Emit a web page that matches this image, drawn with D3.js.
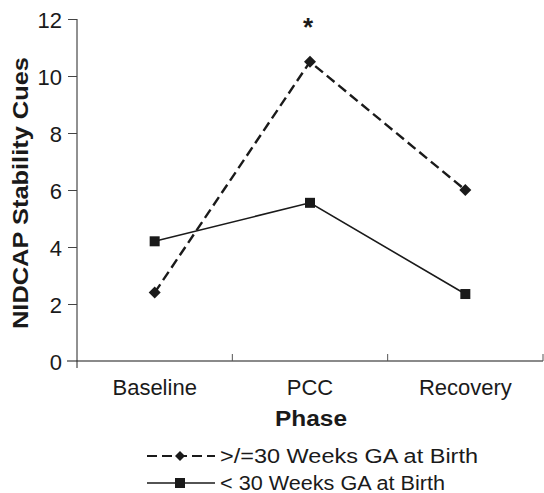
<!DOCTYPE html>
<html lang="en">
<head>
<meta charset="UTF-8">
<title>NIDCAP Stability Cues by Phase</title>
<script src="https://d3js.org/d3.v7.min.js"></script>
<style>
  body { margin: 0; background: #fff; }
  text { font-family: "Liberation Sans", Arial, sans-serif; fill: #1a1a1a; }
</style>
</head>
<body>
<div id="chart"></div>
<script>
// chart data
const phases = ["Baseline", "PCC", "Recovery"];
const ge30 = [2.4, 10.5, 6.0];   // >/=30 weeks GA
const lt30 = [4.2, 5.55, 2.35];  // < 30 weeks GA
const yTicks = [0, 2, 4, 6, 8, 10, 12];
const seriesNames = [">/=30 Weeks GA at Birth", "< 30 Weeks GA at Birth"];

const W = 544, H = 493;
const margin = {top: 19, right: 1, bottom: 132, left: 77};
const width = W - margin.left - margin.right,
      height = H - margin.top - margin.bottom;

const svg = d3.select("#chart").append("svg")
    .attr("width", W).attr("height", H);
const g = svg.append("g").attr("transform", `translate(${margin.left},${margin.top})`);

const x = d3.scaleBand().domain(phases).range([0, width]);
const y = d3.scaleLinear().domain([0, 12]).range([height, 0]);

// x axis (gray)
const xAxis = g.append("g").attr("transform", `translate(0,${height})`)
    .call(d3.axisBottom(x).tickSize(0).tickPadding(18));
xAxis.select(".domain").remove();
xAxis.append("line").attr("x1", -10).attr("x2", width).attr("stroke", "#8a8a8a").attr("stroke-width", 2);
xAxis.selectAll(".cat-tick").data(phases.slice(1).concat(["end"]))
  .join("line")
    .attr("x1", (d, i) => x.step() * (i + 1)).attr("x2", (d, i) => x.step() * (i + 1))
    .attr("y1", 0).attr("y2", -7).attr("stroke", "#555").attr("stroke-width", 1);
xAxis.selectAll("text").attr("font-size", 22).style("fill", "#1a1a1a");

// y axis
const yAxis = g.append("g")
    .call(d3.axisLeft(y).tickValues(yTicks).tickSize(9).tickPadding(6).tickSizeOuter(0));
yAxis.select(".domain").attr("stroke", "#222").attr("d", `M0,0V${height + 7}`);
yAxis.selectAll(".tick line").attr("stroke", "#444");
yAxis.selectAll(".tick").filter(d => d === 0).select("line").attr("stroke", "none");
yAxis.selectAll("text").attr("font-size", 22).attr("dy", "0.4em").style("fill", "#1a1a1a");

const cx = d => x(d) + x.bandwidth() / 2;
const line = d3.line().x(d => cx(d[0])).y(d => y(d[1]));

// < 30 weeks: solid line, squares
const lt = phases.map((p, i) => [p, lt30[i]]);
g.append("path").datum(lt).attr("d", line)
  .attr("fill", "none").attr("stroke", "#1a1a1a").attr("stroke-width", 1.6);
g.selectAll(".sq").data(lt).join("rect")
  .attr("x", d => cx(d[0]) - 5).attr("y", d => y(d[1]) - 5)
  .attr("width", 10).attr("height", 10).attr("fill", "#1a1a1a");

// >= 30 weeks: dashed line, diamonds
const ge = phases.map((p, i) => [p, ge30[i]]);
g.append("path").datum(ge).attr("d", line)
  .attr("fill", "none").attr("stroke", "#1a1a1a").attr("stroke-width", 2.4)
  .attr("stroke-dasharray", "10,5");
const diamond = "M0,-6L6,0L0,6L-6,0Z";
g.selectAll(".dm").data(ge).join("path")
  .attr("d", diamond)
  .attr("transform", d => `translate(${cx(d[0])},${y(d[1])})`)
  .attr("fill", "#1a1a1a");

// significance marker
g.append("text").attr("x", cx("PCC") - 2).attr("y", y(10.5) - 26)
  .attr("text-anchor", "middle").attr("font-size", 26).attr("font-weight", "bold").text("*");

// axis titles
svg.append("text").attr("transform", "translate(28,193) rotate(-90)")
  .attr("text-anchor", "middle").attr("font-size", 22).attr("font-weight", "bold")
  .attr("textLength", 272).attr("lengthAdjust", "spacingAndGlyphs")
  .text("NIDCAP Stability Cues");
svg.append("text").attr("x", 311).attr("y", 426)
  .attr("text-anchor", "middle").attr("font-size", 22).attr("font-weight", "bold")
  .attr("textLength", 72).attr("lengthAdjust", "spacingAndGlyphs").text("Phase");

// legend
const legLen = [258, 225];
const leg = svg.append("g").attr("transform", "translate(147,456)");
seriesNames.forEach((name, i) => {
  const row = leg.append("g").attr("transform", `translate(0,${i * 27})`);
  row.append("line").attr("x1", 0).attr("x2", 68).attr("y1", 0).attr("y2", 0)
    .attr("stroke", "#1a1a1a").attr("stroke-width", i === 0 ? 2 : 1.6)
    .attr("stroke-dasharray", i === 0 ? "10,5" : null);
  if (i === 0) {
    row.append("path").attr("d", "M0,-5L5,0L0,5L-5,0Z").attr("transform", "translate(33,0)").attr("fill", "#1a1a1a");
  } else {
    row.append("rect").attr("x", 28).attr("y", -5).attr("width", 10).attr("height", 10).attr("fill", "#1a1a1a");
  }
  row.append("text").attr("x", 73).attr("y", 7).attr("font-size", 20)
    .attr("textLength", legLen[i]).attr("lengthAdjust", "spacingAndGlyphs").text(name);
});
</script>
</body>
</html>
